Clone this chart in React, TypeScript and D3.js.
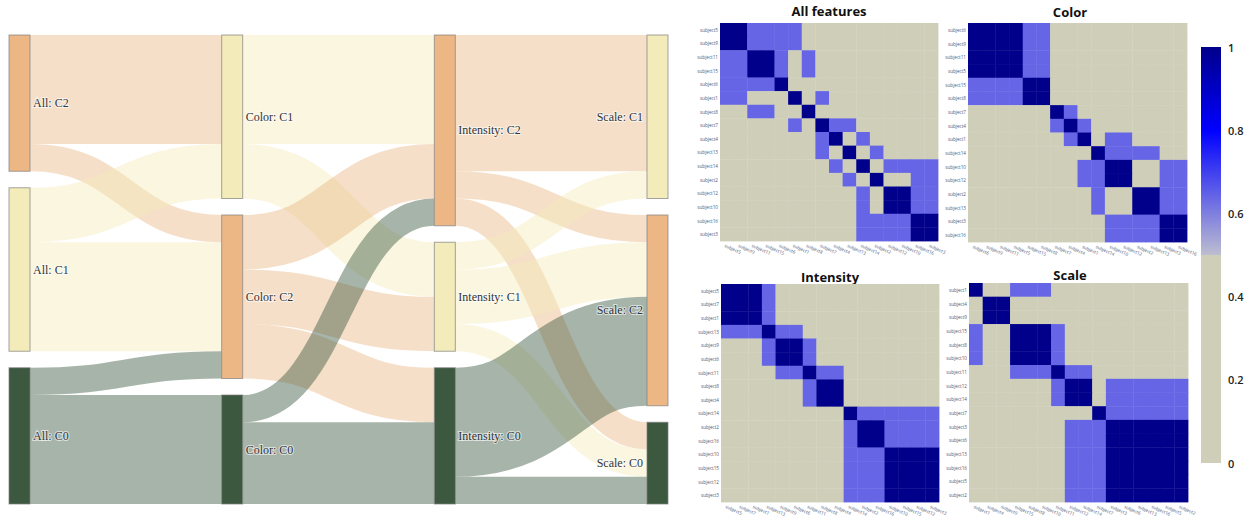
import React from "react";
import * as d3 from "d3";

const W = 1250;
const H = 518;

// ---------------- Sankey data ----------------
const STAGES = ["All", "Color", "Intensity", "Scale"];
const STAGE_ORDER: string[][] = [
  ["C2", "C1", "C0"],
  ["C1", "C2", "C0"],
  ["C2", "C1", "C0"],
  ["C1", "C2", "C0"],
];
const CLUSTER_COLORS: Record<string, string> = { C2: "#ECB785", C1: "#F3EBB9", C0: "#3C5940" };

// [source cluster, target cluster, number of subjects]
const LINKS_ALL_COLOR: [string, string, number][] = [
  ["C2", "C1", 4], ["C2", "C2", 1],
  ["C1", "C1", 2], ["C1", "C2", 4],
  ["C0", "C2", 1], ["C0", "C0", 4],
];
const LINKS_COLOR_INTENSITY: [string, string, number][] = [
  ["C1", "C2", 4], ["C1", "C1", 2],
  ["C2", "C2", 2], ["C2", "C1", 2], ["C2", "C0", 2],
  ["C0", "C2", 1], ["C0", "C0", 3],
];
const LINKS_INTENSITY_SCALE: [string, string, number][] = [
  ["C2", "C1", 5], ["C2", "C2", 1], ["C2", "C0", 1],
  ["C1", "C1", 1], ["C1", "C2", 2], ["C1", "C0", 1],
  ["C0", "C2", 4], ["C0", "C0", 1],
];
const STAGE_LINKS = [LINKS_ALL_COLOR, LINKS_COLOR_INTENSITY, LINKS_INTENSITY_SCALE];

// ---------------- Heatmap data ----------------
const LEVELS = [0, 0.64, 1];

const ALL_LABELS = [5, 9, 11, 15, 6, 1, 8, 7, 4, 13, 14, 2, 12, 10, 16, 3];
const ALL_ROWS = [
  "2211110000000000", "2211110000000000", "1122101000000000", "1122101000000000",
  "1111200000000000", "1100020100000000", "0011002000000000", "0000010211000000",
  "0000000120100000", "0000000102010000", "0000000010201111", "0000000001020011",
  "0000000000102211", "0000000000102211", "0000000000111122", "0000000000111122",
];

const COLOR_LABELS = [6, 9, 11, 5, 15, 8, 7, 4, 1, 14, 10, 12, 2, 13, 3, 16];
const COLOR_ROWS = [
  "2222110000000000", "2222110000000000", "2222110000000000", "2222110000000000",
  "1111220000000000", "1111220000000000", "0000002100000000", "0000001210000000",
  "0000000120110000", "0000000002111100", "0000000011220011", "0000000011220011",
  "0000000001002211", "0000000001002211", "0000000000111122", "0000000000111122",
];

const INTENSITY_LABELS = [5, 7, 1, 13, 9, 6, 11, 8, 4, 14, 2, 16, 10, 15, 12, 3];
const INTENSITY_ROWS = [
  "2221000000000000", "2221000000000000", "2221000000000000", "1112110000000000",
  "0001221000000000", "0001221000000000", "0000112110000000", "0000001220000000",
  "0000001220000000", "0000000002111111", "0000000001221111", "0000000001221111",
  "0000000001112222", "0000000001112222", "0000000001112222", "0000000001112222",
];

const SCALE_LABELS = [1, 4, 9, 15, 8, 10, 11, 12, 14, 7, 3, 6, 13, 16, 5, 2];
const SCALE_ROWS = [
  "2001110000000000", "0220000000000000", "0220000000000000", "1002221000000000",
  "1002221000000000", "1002221000000000", "0001112110000000", "0000001220111111",
  "0000001220111111", "0000000002111111", "0000000111222222", "0000000111222222",
  "0000000111222222", "0000000111222222", "0000000111222222", "0000000111222222",
];

const COLORBAR_TICKS = [0, 0.2, 0.4, 0.6, 0.8, 1];

// ---------------- colours ----------------
const BEIGE = "#CFCFB9";
const highScale = d3
  .scaleLinear<string>()
  .domain([0.5, 0.8, 1])
  .range(["#BDBDD0", "#0000FF", "#00008B"]);
const heatColor = (v: number) => (v <= 0.5 ? BEIGE : highScale(v));

// ---------------- Sankey layout ----------------
const SK = { left: 9, right: 668, top: 35, bottom: 504, nodeWidth: 21, pad: 16.5 };

function layoutSankey() {
  const xScale = d3.scalePoint<string>().domain(STAGES).range([SK.left, SK.right - SK.nodeWidth]);
  const nodes: any[] = [];
  const byKey: Record<string, any> = {};
  STAGES.forEach((stage, s) => {
    STAGE_ORDER[s].forEach((c) => {
      const outV = s < STAGE_LINKS.length ? d3.sum(STAGE_LINKS[s].filter((l) => l[0] === c), (l) => l[2]) : 0;
      const inV = s > 0 ? d3.sum(STAGE_LINKS[s - 1].filter((l) => l[1] === c), (l) => l[2]) : 0;
      const node = { stage, s, c, value: Math.max(outV, inV), x0: xScale(stage)!, x1: 0, y0: 0, y1: 0 };
      node.x1 = node.x0 + SK.nodeWidth;
      nodes.push(node);
      byKey[s + c] = node;
    });
  });
  const total = d3.max(STAGES.map((_, s) => d3.sum(nodes.filter((n) => n.s === s), (n) => n.value)))!;
  const ky = (SK.bottom - SK.top - SK.pad * 2) / total;
  const yv = d3.scaleLinear().domain([0, total]).range([0, total * ky]);
  STAGES.forEach((_, s) => {
    let y = SK.top;
    nodes.filter((n) => n.s === s).forEach((n) => {
      n.y0 = y;
      n.y1 = y + yv(n.value);
      y = n.y1 + SK.pad;
    });
  });
  const links: any[] = [];
  STAGE_LINKS.forEach((list, s) => {
    list.forEach(([a, b, v]) => {
      links.push({ s, source: byKey[s + a], target: byKey[s + 1 + b], value: v, width: yv(v), y0: 0, y1: 0 });
    });
  });
  nodes.forEach((n) => {
    if (n.s < STAGES.length - 1) {
      const out = links
        .filter((l) => l.source === n)
        .sort((p, q) => STAGE_ORDER[n.s + 1].indexOf(p.target.c) - STAGE_ORDER[n.s + 1].indexOf(q.target.c));
      let y = n.y0;
      out.forEach((l) => { l.y0 = y + l.width / 2; y += l.width; });
    }
    if (n.s > 0) {
      const inc = links
        .filter((l) => l.target === n)
        .sort((p, q) => STAGE_ORDER[n.s - 1].indexOf(p.source.c) - STAGE_ORDER[n.s - 1].indexOf(q.source.c));
      let y = n.y0;
      inc.forEach((l) => { l.y1 = y + l.width / 2; y += l.width; });
    }
  });
  return { nodes, links };
}

const linkPath = d3
  .linkHorizontal<any, [number, number]>()
  .source((l: any) => [l.source.x1, l.y0])
  .target((l: any) => [l.target.x0, l.y1]);

const SERIF = "'Times New Roman', 'Liberation Serif', Tinos, 'DejaVu Serif', serif";

function Sankey() {
  const { nodes, links } = layoutSankey();
  const last = STAGES.length - 1;
  return (
    <g>
      {links.map((l, i) => (
        <path
          key={i}
          d={linkPath(l) || ""}
          fill="none"
          stroke={CLUSTER_COLORS[l.source.c]}
          strokeOpacity={0.45}
          strokeWidth={l.width}
        />
      ))}
      {nodes.map((n, i) => (
        <rect
          key={i}
          x={n.x0}
          y={n.y0}
          width={n.x1 - n.x0}
          height={n.y1 - n.y0}
          fill={CLUSTER_COLORS[n.c]}
          stroke="#7f7f7f"
          strokeOpacity={0.7}
          strokeWidth={1}
        />
      ))}
      {nodes.map((n, i) => (
        <text
          key={"t" + i}
          x={n.s === last ? n.x0 - 4 : n.x1 + 3}
          y={(n.y0 + n.y1) / 2}
          textAnchor={n.s === last ? "end" : "start"}
          dominantBaseline="central"
          style={{ fontFamily: SERIF }}
          fontSize={12}
          fill="#333"
          stroke="#fff"
          strokeWidth={2}
          strokeOpacity={0.6}
          paintOrder="stroke"
        >
          {`${n.stage}: ${n.c}`}
        </text>
      ))}
    </g>
  );
}

// ---------------- Heatmap ----------------
const SANS = "'Open Sans', 'Noto Sans', sans-serif";

function Heatmap(props: {
  title: string; labels: number[]; rows: string[];
  x: number; y: number; size: number; titleX: number; titleY: number;
}) {
  const { title, labels, rows, x, y, size, titleX, titleY } = props;
  const names = labels.map((d) => "subject" + d);
  const band = d3.scaleBand<string>().domain(names).range([0, size]);
  const bw = band.bandwidth();
  return (
    <g>
      <text
        x={titleX}
        y={titleY}
        textAnchor="middle"
        style={{ fontFamily: SANS }}
        fontWeight={700}
        fontSize={13}
        fill="#111"
      >
        {title}
      </text>
      <g transform={`translate(${x},${y})`}>
        {rows.map((row, r) =>
          row.split("").map((code, c) => (
            <rect
              key={r + "-" + c}
              x={band(names[c])!}
              y={band(names[r])!}
              width={bw + 0.4}
              height={bw + 0.4}
              fill={heatColor(LEVELS[+code])}
            />
          ))
        )}
        {names.map((nm) => (
          <text
            key={"r" + nm}
            x={-2}
            y={band(nm)! + bw / 2}
            textAnchor="end"
            dominantBaseline="central"
            style={{ fontFamily: SANS }}
            fontSize={4.6}
            fill="#4a5a7a"
          >
            {nm}
          </text>
        ))}
        {names.map((nm) => (
          <text
            key={"c" + nm}
            transform={`translate(${band(nm)! + bw / 2 - 1},${size + 2}) rotate(25)`}
            textAnchor="start"
            dominantBaseline="hanging"
            style={{ fontFamily: SANS }}
            fontSize={4.5}
            fill="#4a5a7a"
          >
            {nm}
          </text>
        ))}
      </g>
    </g>
  );
}

function Colorbar() {
  const x = 1201, w = 20, y0 = 47, y1 = 463;
  const sy = d3.scaleLinear().domain([0, 1]).range([y1, y0]);
  return (
    <g>
      <defs>
        <linearGradient id="cbgrad" x1="0" y1="0" x2="0" y2="1">
          <stop offset="0%" stopColor={heatColor(1)} />
          <stop offset="10%" stopColor={heatColor(0.9)} />
          <stop offset="20%" stopColor={heatColor(0.8)} />
          <stop offset="35%" stopColor={heatColor(0.65)} />
          <stop offset="49.9%" stopColor={heatColor(0.5001)} />
          <stop offset="50%" stopColor={BEIGE} />
          <stop offset="100%" stopColor={BEIGE} />
        </linearGradient>
      </defs>
      <rect x={x} y={y0} width={w} height={y1 - y0} fill="url(#cbgrad)" />
      {COLORBAR_TICKS.map((t) => (
        <text
          key={t}
          x={x + w + 7}
          y={sy(t)}
          dominantBaseline="central"
          style={{ fontFamily: SANS }}
          fontWeight={600}
          fontSize={11}
          fill="#222"
        >
          {d3.format("~g")(t)}
        </text>
      ))}
    </g>
  );
}

export default function App() {
  return (
    <svg
      width={W}
      height={H}
      style={{ position: "absolute", left: 0, top: 0, display: "block", background: "#fff" }}
    >
      <rect width={W} height={H} fill="#fff" />
      <Sankey />
      <Heatmap title="All features" labels={ALL_LABELS} rows={ALL_ROWS} x={720} y={23} size={218} titleX={829} titleY={16} />
      <Heatmap title="Color" labels={COLOR_LABELS} rows={COLOR_ROWS} x={968} y={23} size={219} titleX={1070} titleY={17} />
      <Heatmap title="Intensity" labels={INTENSITY_LABELS} rows={INTENSITY_ROWS} x={721} y={284} size={218} titleX={830} titleY={282} />
      <Heatmap title="Scale" labels={SCALE_LABELS} rows={SCALE_ROWS} x={969} y={283} size={219} titleX={1070} titleY={280} />
      <Colorbar />
    </svg>
  );
}
